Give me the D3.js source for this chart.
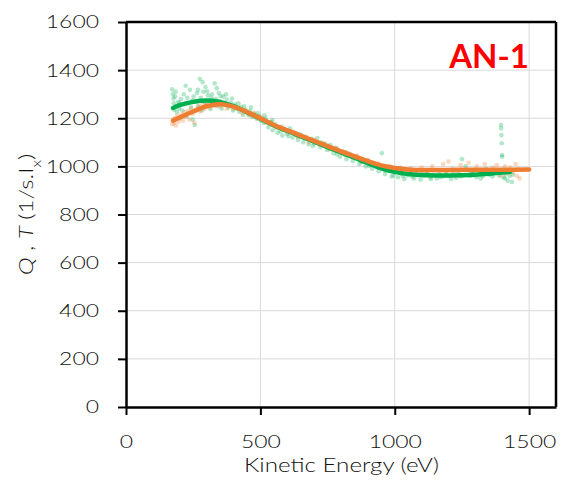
<!DOCTYPE html>
<html>
<head>
<meta charset="utf-8">
<script src="https://cdn.jsdelivr.net/npm/d3@7"></script>
<style>
  html, body { margin: 0; padding: 0; background: #fff; }
  svg { display: block; }
  text { font-family: Lato, "Open Sans", sans-serif; }
</style>
</head>
<body>
<svg id="chart" width="565" height="483"></svg>
<script>
// ---- data ----
const xTicks = [0, 500, 1000, 1500];
const yTicks = [0, 200, 400, 600, 800, 1000, 1200, 1400, 1600];
const chartLabel = "AN-1";
const xTitle = "Kinetic Energy (eV)";

// fitted curve Q (green)
const greenCurve = [[175,1243],[200,1255],[250,1268],[300,1274],[350,1268],[400,1250],[450,1225],[500,1198],
  [550,1170],[600,1148],[650,1125],[700,1103],[750,1080],[800,1058],[850,1036],[900,1013],[950,992],
  [1000,977],[1050,968],[1100,964],[1150,962],[1200,962],[1250,963],[1300,965],[1350,969],[1400,974],[1430,978]];

// fitted curve T (orange)
const orangeCurve = [[175,1190],[200,1203],[250,1228],[300,1250],[350,1258],[400,1248],[450,1226],[500,1200],
  [550,1172],[600,1150],[650,1128],[700,1106],[750,1084],[800,1062],[850,1042],[900,1022],[950,1004],
  [1000,993],[1050,987],[1100,985],[1200,985],[1300,986],[1400,986],[1500,987]];

// raw Q points (green)
const greenPoints = [[172,1320],[174,1300],[176,1282],[178,1262],[180,1235],[183,1290],[186,1250],[190,1225],[194,1268],[198,1240],
  [205,1280],[210,1232],[215,1300],[220,1258],[225,1210],[228,1285],[232,1262],[238,1318],[242,1245],[248,1195],[252,1290],[256,1172],
  [260,1270],[264,1305],[270,1250],[275,1363],[278,1285],[283,1232],[288,1310],[292,1268],[296,1330],[300,1255],
  [305,1295],[310,1272],[315,1238],[320,1300],[325,1260],[330,1345],[335,1280],[340,1250],[345,1305],[350,1270],[356,1240],
  [362,1290],[368,1262],[375,1278],[382,1245],[390,1265],[398,1232],[405,1258],[412,1240],[420,1228],[428,1248],[436,1215],[445,1232],
  [455,1215],[462,1230],[470,1205],[478,1220],[486,1198],[495,1210],[503,1190],[512,1180],[520,1200],[530,1162],[538,1185],[546,1150],
  [555,1175],[564,1140],[573,1162],[582,1128],[590,1150],[600,1135],[610,1158],[620,1120],[630,1140],[640,1110],[650,1132],[660,1100],
  [670,1122],[680,1092],[690,1115],[700,1095],[712,1118],[724,1080],[736,1095],[748,1068],[760,1090],[772,1055],[784,1075],[796,1040],
  [808,1062],[820,1030],[832,1052],[844,1022],[856,1042],[868,1010],[880,1030],[892,1000],[904,1020],[916,990],[928,1008],[940,980],
  [952,1055],[952,1000],[964,968],[976,985],[988,958],[1000,975],[1012,955],[1024,970],[1036,948],[1048,962],[1060,975],[1072,950],
  [1084,965],[1096,945],[1108,960],[1120,972],[1132,955],[1144,965],[1156,950],[1168,968],[1180,958],[1192,975],[1204,960],[1216,968],
  [1228,952],[1240,972],[1250,1030],[1252,962],[1264,1000],[1270,985],[1280,960],[1292,970],[1304,955],[1316,975],[1328,960],[1340,990],
  [1352,965],[1364,958],[1376,975],[1388,962],[1395,1172],[1396,1158],[1397,1130],[1398,1096],[1399,1047],[1400,1040],[1405,955],
  [1412,970],[1420,940],[1428,960],[1436,935],[1440,965],
  [185,1310],[200,1262],[222,1335],[246,1275],[268,1318],[285,1350],[302,1312],[318,1285],[338,1325],[352,1292],[372,1300],
  [395,1282],[418,1262],[440,1250],[465,1245],[490,1222],[515,1212],[545,1192],[575,1145],[605,1125],[635,1128],[665,1115],
  [695,1085],[725,1100],[755,1075],[785,1050],[815,1048],[845,1040],[875,1018],[905,1002],[935,995],[965,982],[995,962],
  [1030,960],[1065,958],[1100,970],[1135,948],[1170,955],[1210,948],[1245,958],[1285,975],[1320,950],[1360,970],[1410,950]];

// raw T points (orange)
const orangePoints = [[172,1175],[175,1195],[178,1180],[182,1200],[186,1170],[190,1210],[195,1185],[200,1198],[206,1215],[212,1190],
  [218,1225],[224,1205],[230,1230],[236,1195],[242,1240],[248,1218],[254,1182],[260,1235],[268,1250],[276,1228],[284,1258],[292,1240],
  [300,1262],[310,1245],[320,1268],[330,1250],[340,1265],[350,1248],[362,1262],[375,1240],[388,1255],[400,1238],[415,1245],[430,1222],
  [445,1235],[460,1212],[475,1222],[490,1198],[505,1205],[520,1182],[540,1182],[560,1160],[580,1165],[600,1142],[620,1145],[640,1122],
  [660,1125],[680,1100],[700,1112],[720,1090],[740,1095],[760,1070],[780,1078],[800,1055],[820,1060],[840,1038],[860,1045],[880,1018],
  [900,1028],[920,1005],[940,1012],[960,995],[980,1002],[1000,985],[1020,995],[1040,980],[1060,992],[1080,978],[1100,995],[1120,975],
  [1140,1000],[1160,980],[1180,1010],[1190,978],[1200,1020],[1215,990],[1230,975],[1245,1005],[1260,985],[1275,1015],[1290,972],
  [1305,1000],[1320,985],[1335,1010],[1350,975],[1365,995],[1380,1005],[1395,960],[1400,985],[1410,1000],[1420,970],[1430,995],
  [1440,975],[1450,1010],[1455,960],[1460,990],[1465,950]];

// ---- layout ----
const svg = d3.select("#chart");
const L = 126, R = 556, T = 22, B = 407;
const x = d3.scaleLinear().domain([0, 1600]).range([L, R]);
const y = d3.scaleLinear().domain([0, 1600]).range([B, T]);
const GREEN = "#00b050", ORANGE = "#ed7d31";
const TXT = "#111";
const SX = 1.24; // horizontal stretch of the original's text
const fmt = d3.format("d");

// gridlines
svg.append("g").selectAll("line").data(yTicks.filter(d => d > 0 && d < 1600)).join("line")
  .attr("x1", L).attr("x2", R).attr("y1", d => y(d)).attr("y2", d => y(d))
  .attr("stroke", "#d9d9d9").attr("stroke-width", 1);
svg.append("g").selectAll("line").data(xTicks.filter(d => d > 0)).join("line")
  .attr("x1", d => x(d)).attr("x2", d => x(d)).attr("y1", T).attr("y2", B)
  .attr("stroke", "#d9d9d9").attr("stroke-width", 1);

// scatter
svg.append("g").selectAll("circle").data(greenPoints).join("circle")
  .attr("cx", d => x(d[0])).attr("cy", d => y(d[1])).attr("r", 2.3)
  .attr("fill", GREEN).attr("fill-opacity", 0.3);
svg.append("g").selectAll("circle").data(orangePoints).join("circle")
  .attr("cx", d => x(d[0])).attr("cy", d => y(d[1])).attr("r", 2.3)
  .attr("fill", ORANGE).attr("fill-opacity", 0.3);

// fitted lines
const line = d3.line().x(d => x(d[0])).y(d => y(d[1])).curve(d3.curveCatmullRom);
svg.append("path").datum(greenCurve).attr("d", line)
  .attr("fill", "none").attr("stroke", GREEN).attr("stroke-width", 4.5).attr("stroke-linecap", "round");
svg.append("path").datum(orangeCurve).attr("d", line)
  .attr("fill", "none").attr("stroke", ORANGE).attr("stroke-width", 4.5).attr("stroke-linecap", "round");

// frame top/right
svg.append("line").attr("x1", L).attr("x2", R).attr("y1", T).attr("y2", T).attr("stroke", "#000").attr("stroke-width", 2.5);
svg.append("line").attr("x1", R).attr("x2", R).attr("y1", T).attr("y2", B).attr("stroke", "#000").attr("stroke-width", 2.5);

// axes
function styleAxis(g) {
  g.select(".domain").attr("stroke", "#000").attr("stroke-width", 2.5);
  g.selectAll(".tick line").attr("stroke", "#000").attr("stroke-width", 2);
  g.selectAll(".tick text").attr("fill", TXT).style("font-size", "18.5px").style("font-weight", 300);
}
const yAxis = svg.append("g").attr("transform", `translate(${L},0)`)
  .call(d3.axisLeft(y).tickValues(yTicks).tickFormat(fmt).tickSize(8).tickSizeOuter(0).tickPadding(19));
styleAxis(yAxis);
yAxis.selectAll(".tick text").each(function() {
  const t = d3.select(this); const xx = +t.attr("x");
  t.attr("x", xx / SX).attr("transform", `scale(${SX},1)`);
});
const xAxis = svg.append("g").attr("transform", `translate(0,${B})`)
  .call(d3.axisBottom(x).tickValues(xTicks).tickFormat(fmt).tickSize(8).tickSizeOuter(0));
styleAxis(xAxis);
xAxis.selectAll(".tick text").attr("y", 41).attr("dy", 0).attr("transform", `scale(${SX},1)`);

// axis titles
svg.append("text").attr("x", 341.5 / 1.24).attr("y", 472.5)
  .attr("transform", "scale(1.24,1)")
  .attr("text-anchor", "middle").attr("fill", TXT)
  .style("font-size", "19.5px").style("font-weight", 300).text(xTitle);

const yt = svg.append("text").attr("transform", `translate(33,${(T + B) / 2}) rotate(-90) scale(1.24,1)`)
  .attr("text-anchor", "middle").attr("fill", TXT)
  .style("font-size", "19.5px").style("font-weight", 300);
yt.append("tspan").attr("font-style", "italic").text("Q");
yt.append("tspan").text(" , ");
yt.append("tspan").attr("font-style", "italic").text("T");
yt.append("tspan").text(" (1/s.I");
yt.append("tspan").attr("baseline-shift", "sub").style("font-size", "13px").text("x");
yt.append("tspan").text(")");

// label
svg.append("text").attr("x", 529).attr("y", 67.5).attr("text-anchor", "end")
  .attr("fill", "#ff0000").style("font-size", "33px").style("font-weight", 700).text(chartLabel);
</script>
</body>
</html>
